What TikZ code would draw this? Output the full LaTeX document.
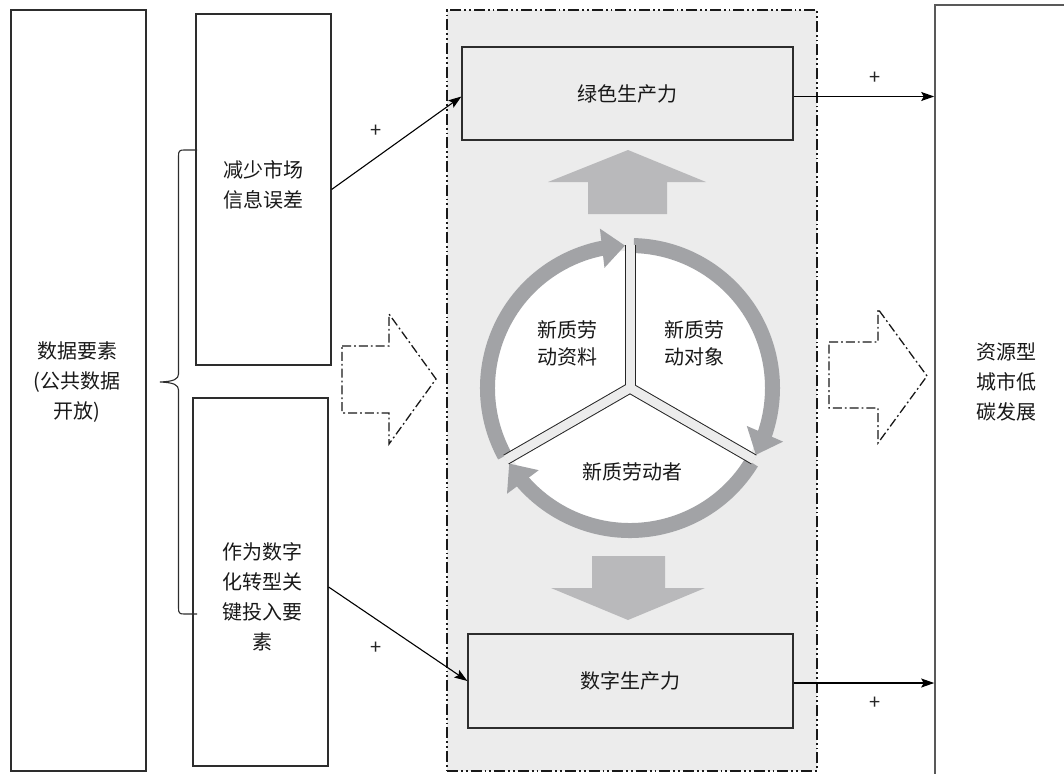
\documentclass[tikz,border=0pt]{standalone}
\usepackage{fontspec}
\setmainfont{Noto Sans CJK SC}
\usetikzlibrary{arrows.meta,bending,calc}
\definecolor{panel}{RGB}{236,236,236}
\definecolor{ringc}{RGB}{162,163,166}
\definecolor{blockc}{RGB}{185,185,187}
\definecolor{edge}{RGB}{45,45,45}
\begin{document}
\begin{tikzpicture}[x=1pt,y=-1pt,
  box/.style={draw=edge,line width=1.2pt,fill=white,inner sep=0pt},
  lbl/.style={font=\fontsize{20}{30}\selectfont,align=center,inner sep=0pt,text=black!90},
  inlbl/.style={font=\fontsize{20}{27}\selectfont,align=center,inner sep=0pt,text=black!90},
  conn/.style={draw=black,line width=1.1pt,-{Stealth[length=13pt,width=9pt,inset=2.5pt]}},
  plus/.style={font=\fontsize{20}{20}\selectfont,inner sep=0pt,text=black!85},
  ring/.style={draw=ringc,line width=15pt,-{Triangle[width=38pt,length=23pt]}},
  dd/.style={draw=black!90,line width=1.3pt,dash pattern=on 9pt off 3pt on 1.8pt off 3pt},
  blockarrow/.style={fill=blockc},
]
\useasboundingbox (0,0) rectangle (1064,773);
\clip (0,0) rectangle (1064,773);
\fill[white] (0,0) rectangle (1064,773);

% central panel
\node[draw=black!90,line width=1.4pt,fill=panel,
      dash pattern=on 11pt off 3pt on 1.8pt off 3pt on 1.8pt off 3pt,
      minimum width=370pt,minimum height=761pt,inner sep=0pt] (P) at (632,390.5) {};

% productivity boxes
\node[box,fill=panel,minimum width=331pt,minimum height=93pt,font=\fontsize{20}{30}\selectfont,text=black!90] (G) at (627.5,93.5) {绿色生产力};
\node[box,fill=panel,minimum width=325pt,minimum height=94pt,font=\fontsize{20}{30}\selectfont,text=black!90] (D) at (630.5,681) {数字生产力};

% block arrows
\fill[blockarrow] (588,214) -- (588,182) -- (548,182) -- (628,150) -- (706,182) -- (667,182) -- (667,214) -- cycle;
\fill[blockarrow] (592,556) -- (665,556) -- (665,588) -- (705,588) -- (628,620) -- (551,588) -- (592,588) -- cycle;

% cycle
\coordinate (C) at (630,388);
\fill[white] (C) circle[radius=137];
\draw[ring] ($(C)+(151.5:142.5)$) arc[start angle=151.5,end angle=268,radius=142.5];
\draw[ring] ($(C)+(271.5:142.5)$) arc[start angle=271.5,end angle=388,radius=142.5];
\draw[ring] ($(C)+(31.5:142.5)$) arc[start angle=31.5,end angle=148,radius=142.5];
\foreach \a in {30,150,270} \draw[black!85,line width=11pt] (C) -- ($(C)+(\a:143)$);
\fill[black!85] (C) circle[radius=5.5];
\fill[panel] (C) circle[radius=4.5];
\foreach \a in {30,150,270} \draw[panel,line width=9pt] (C) -- ($(C)+(\a:143.5)$);

\node[inlbl] (m1) at (567,343) {新质劳\\动资料};
\node[inlbl] (m2) at (694,343) {新质劳\\动对象};
\node[inlbl] (m3) at (632,472) {新质劳动者};

% dash-dot block arrows
\draw[dd] (342,346) -- (389,346) -- (389,314) -- (436,379) -- (389,444) -- (389,413) -- (342,413) -- cycle;
\draw[dd] (829,342) -- (878,342) -- (878,309) -- (927,376) -- (878,443) -- (878,408) -- (829,408) -- cycle;

% left boxes
\node[box,minimum width=135pt,minimum height=761pt] (L) at (78.5,390.5) {};
\node[box,minimum width=135pt,minimum height=351pt] (B1) at (263.5,189.5) {};
\node[box,minimum width=135pt,minimum height=368pt] (B2) at (260.5,582) {};
\node[lbl] (tL) at (77,382) {数据要素\\(公共数据\\开放)};
\node[lbl] (t1) at (263,185) {减少市场\\信息误差};
\node[lbl] (t2) at (262,597) {作为数字\\化转型关\\键投入要\\素};

% brace
\draw[edge,line width=1.1pt] (197,150) -- (184,150) .. controls (179.5,150) and (178.5,151) .. (178.5,156)
  -- (178.5,374) .. controls (178.5,379) and (174,381.5) .. (160,382)
  .. controls (174,382.5) and (178.5,385) .. (178.5,390)
  -- (178.5,608) .. controls (178.5,613) and (179.5,614) .. (184,614) -- (197,614);

% right box
\node[draw=black!65,line width=1.6pt,fill=white,minimum width=140pt,minimum height=780pt,inner sep=0pt] (R) at (1005,395) {};
\node[lbl] (tR) at (1006,382) {资源型\\城市低\\碳发展};

% connectors
\draw[conn] (B1.east) -- ($(G.west)+(0,3)$);
\draw[conn] ($(B2.east)+(0,5)$) -- (D.west);
\coordinate (g1) at ($(G.east)+(0,3)$);
\coordinate (d1) at ($(D.east)+(0,2)$);
\draw[conn] (g1) -- (g1 -| R.west);
\draw[conn] (d1) -- (d1 -| R.west);

\node[plus] (p1) at (376,131) {+};
\node[plus] (p2) at (376,648) {+};
\node[plus] (p3) at (875,78) {+};
\node[plus] (p4) at (875,703) {+};
\end{tikzpicture}
\end{document}
